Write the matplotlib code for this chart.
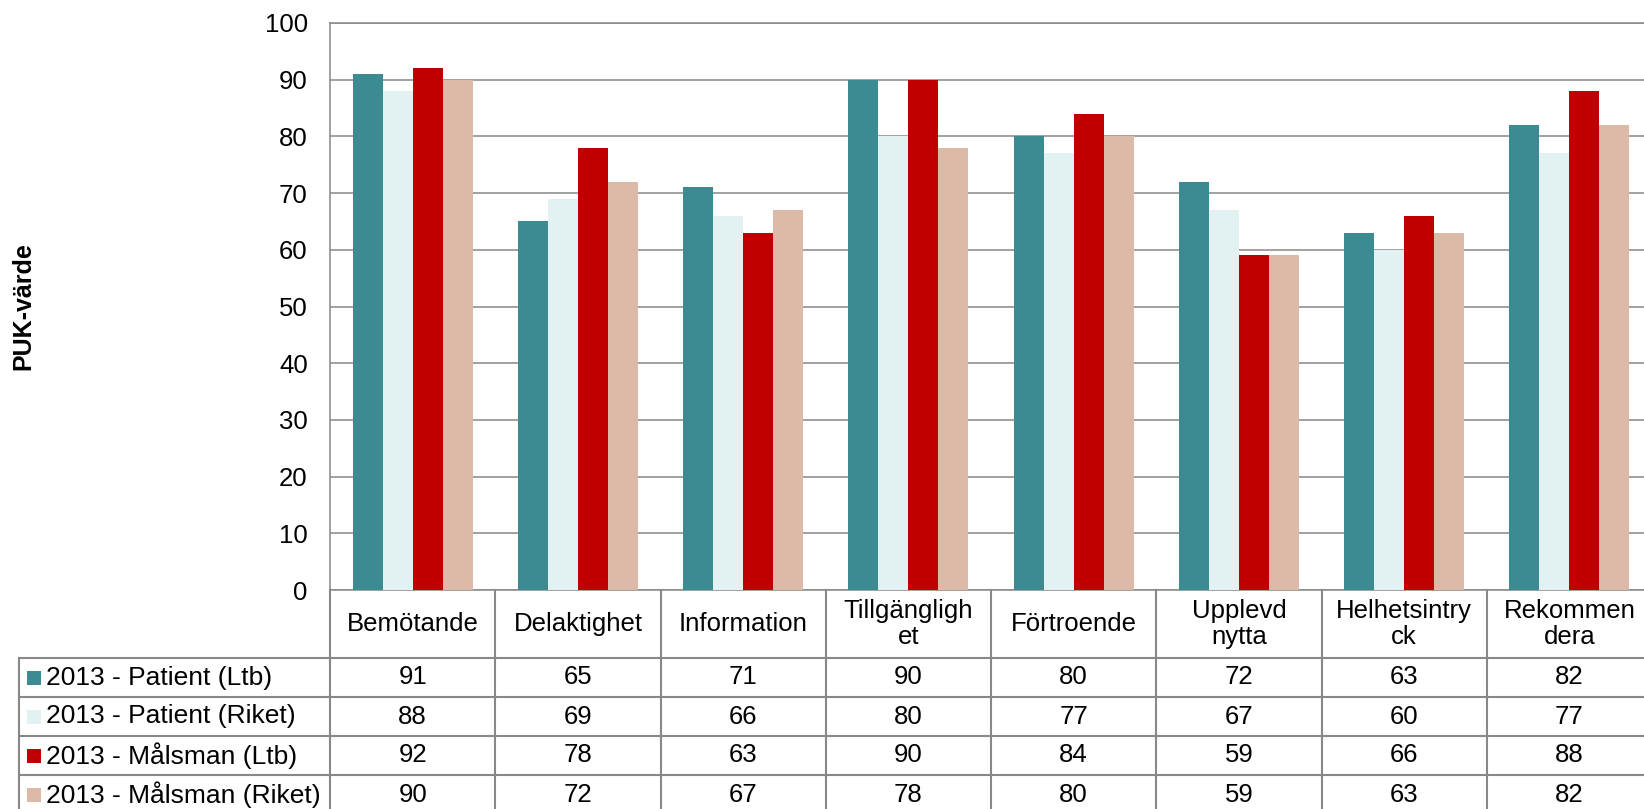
import numpy as np
import matplotlib
matplotlib.use('Agg')
import matplotlib.pyplot as plt
from matplotlib.patches import Rectangle

plt.rcParams['font.family'] = ['Liberation Sans', 'DejaVu Sans']

# Data
categories = ['Bemötande', 'Delaktighet', 'Information', 'Tillgänglighet',
              'Förtroende', 'Upplevd nytta', 'Helhetsintryck', 'Rekommendera']
header_labels = ['Bemötande', 'Delaktighet', 'Information', 'Tillgängligh\net',
                 'Förtroende', 'Upplevd\nnytta', 'Helhetsintry\nck', 'Rekommen\ndera']
series_names = ['2013 - Patient (Ltb)', '2013 - Patient (Riket)',
                '2013 - Målsman (Ltb)', '2013 - Målsman (Riket)']
patient_ltb = [91, 65, 71, 90, 80, 72, 63, 82]
patient_riket = [88, 69, 66, 80, 77, 67, 60, 77]
malsman_ltb = [92, 78, 63, 90, 84, 59, 66, 88]
malsman_riket = [90, 72, 67, 78, 80, 59, 63, 82]
series = [patient_ltb, patient_riket, malsman_ltb, malsman_riket]
colors = ['#3D8B92', '#E2F2F3', '#C00000', '#DDB9A7']

W, H, DPI = 1644, 809, 100
grid_col = '#888888'
fs = 18.5

fig = plt.figure(figsize=(W / DPI, H / DPI), dpi=DPI)
# axes: left 330px, top 23px, bottom 590px, right edge runs past the figure
ax = fig.add_axes([330 / W, 1 - 590 / H, 1322 / W, 567 / H])

x = np.arange(len(categories))
bw = 0.1815
for i, (vals, col) in enumerate(zip(series, colors)):
    ax.bar(x + (i - 1.5) * bw, vals, width=bw, color=col, linewidth=0, zorder=3)

ax.set_xlim(-0.5, len(categories) - 0.5)
ax.set_ylim(0, 100)
ax.set_yticks(range(0, 101, 10))
ax.set_xticks([])
ax.tick_params(axis='y', length=0, pad=16, labelsize=fs)
ax.yaxis.grid(True, color=grid_col, linewidth=1.1)
ax.set_axisbelow(True)
for s in ax.spines.values():
    s.set_color(grid_col)
    s.set_linewidth(1.1)

fig.text(23 / W, 1 - 306 / H, 'PUK-värde', rotation=90, fontsize=18,
         fontweight='bold', ha='center', va='center')

# data table below the axes (x in data units, y in axes units)
tr = ax.get_xaxis_transform()
px_x = 1322 / len(categories)      # pixels per data unit in x
px_y = 567.0                       # pixels per axes unit in y
hh = 68 / px_y                     # header height
rh = 39 / px_y                     # row height
x_left = -0.5 - (330 - 19) / px_x
x_right = len(categories) - 0.4
bottom = -hh - len(series) * rh
line_kw = dict(color=grid_col, linewidth=1.5, transform=tr, clip_on=False)

for k in range(len(series) + 1):
    yy = -hh - k * rh
    ax.plot([x_left, x_right], [yy, yy], **line_kw)
for i in range(len(categories) + 1):
    ax.plot([i - 0.5, i - 0.5], [0, bottom], **line_kw)
ax.plot([x_left, x_left], [-hh, bottom], **line_kw)

for i, lab in enumerate(header_labels):
    ax.text(i, -hh / 2, lab, transform=tr, ha='center', va='center',
            fontsize=fs, linespacing=1.15, clip_on=False)

for k, (name, vals, col) in enumerate(zip(series_names, series, colors)):
    yc = -hh - (k + 0.5) * rh
    ax.add_patch(Rectangle((x_left + 8 / px_x, yc - 7 / px_y), 14 / px_x, 14 / px_y,
                           facecolor=col, edgecolor='none', transform=tr, clip_on=False))
    ax.text(x_left + 27 / px_x, yc, name, transform=tr, ha='left', va='center',
            fontsize=19, clip_on=False)
    for i, v in enumerate(vals):
        ax.text(i, yc, str(v), transform=tr, ha='center', va='center',
                fontsize=fs, clip_on=False)

fig.savefig('out.png', dpi=DPI)
